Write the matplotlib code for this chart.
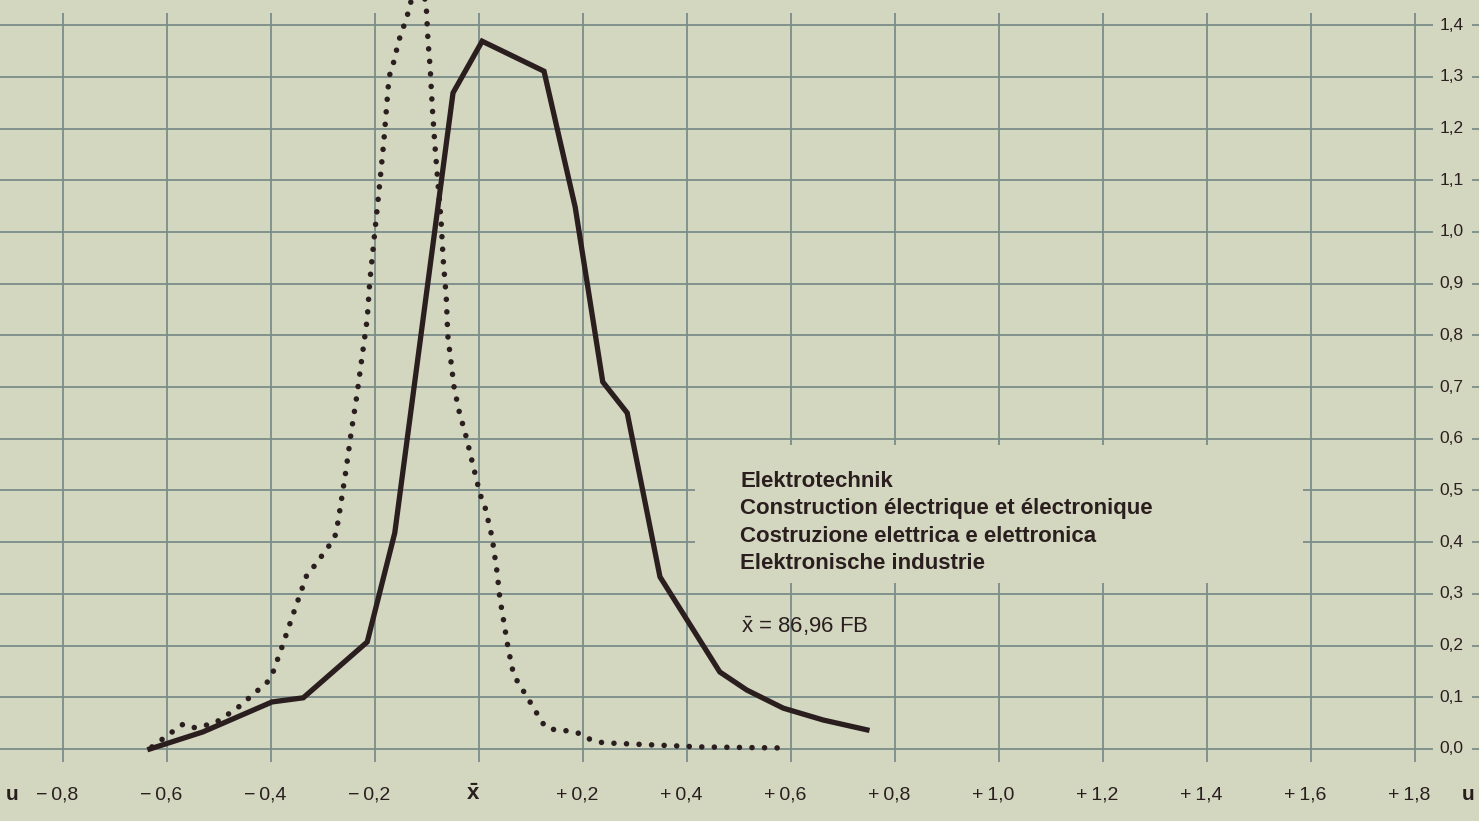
import matplotlib
matplotlib.use("Agg")
import matplotlib.pyplot as plt
from matplotlib.patches import Rectangle
import numpy as np

plt.rcParams['font.family'] = ['Liberation Sans', 'DejaVu Sans']
plt.rcParams['mathtext.fontset'] = 'custom'
plt.rcParams['mathtext.rm'] = 'Liberation Sans'
plt.rcParams['mathtext.it'] = 'Liberation Sans:italic'
plt.rcParams['mathtext.bf'] = 'Liberation Sans:bold'

# ---- data ----
solid_u = [-0.633, -0.531, -0.398, -0.338, -0.215, -0.162, -0.050, 0.006, 0.125,
           0.185, 0.238, 0.285, 0.348, 0.463, 0.515, 0.585, 0.662, 0.746]
solid_v = [0.000, 0.033, 0.091, 0.099, 0.207, 0.418, 1.269, 1.369, 1.311,
           1.048, 0.710, 0.650, 0.333, 0.149, 0.114, 0.079, 0.056, 0.037]

dotted_u = [-0.629, -0.590, -0.569, -0.546, -0.508, -0.465, -0.427, -0.408, -0.396,
            -0.379, -0.356, -0.331, -0.315, -0.287, -0.275, -0.267, -0.256, -0.246,
            -0.235, -0.225, -0.215, -0.210, -0.200, -0.190, -0.183, -0.177, -0.173,
            -0.165, -0.154, -0.138, -0.133, -0.117, -0.102, -0.098, -0.094, -0.090,
            -0.085, -0.079, -0.073, -0.069, -0.063, -0.060, -0.054, -0.048, -0.038,
            -0.025, -0.013, 0.002, 0.012, 0.025, 0.035, 0.040, 0.048, 0.056,
            0.065, 0.075, 0.088, 0.113, 0.127, 0.146, 0.171, 0.190, 0.213,
            0.238, 0.425, 0.579]
dotted_v = [0.004, 0.033, 0.048, 0.041, 0.050, 0.079, 0.112, 0.128, 0.149,
            0.197, 0.265, 0.337, 0.356, 0.395, 0.416, 0.466, 0.538, 0.611,
            0.683, 0.758, 0.832, 0.905, 1.004, 1.103, 1.176, 1.251, 1.300,
            1.325, 1.371, 1.418, 1.441, 1.472, 1.447, 1.368, 1.319, 1.244,
            1.170, 1.095, 1.023, 0.948, 0.874, 0.799, 0.750, 0.700, 0.652,
            0.605, 0.555, 0.493, 0.466, 0.410, 0.340, 0.292, 0.244, 0.195,
            0.151, 0.128, 0.108, 0.066, 0.043, 0.037, 0.035, 0.031, 0.019,
            0.012, 0.004, 0.002]

x_ticks = [-0.8, -0.6, -0.4, -0.2, 0.0, 0.2, 0.4, 0.6, 0.8, 1.0, 1.2, 1.4, 1.6, 1.8]
x_tick_labels = ['−\u20090,8', '−\u20090,6', '−\u20090,4', '−\u20090,2', r'$\mathbf{\bar{x}}$',
                 '+\u20090,2', '+\u20090,4', '+\u20090,6', '+\u20090,8', '+\u20091,0',
                 '+\u20091,2', '+\u20091,4', '+\u20091,6', '+\u20091,8']
y_ticks = [0.0, 0.1, 0.2, 0.3, 0.4, 0.5, 0.6, 0.7, 0.8, 0.9, 1.0, 1.1, 1.2, 1.3, 1.4]
y_tick_labels = ['0,0', '0,1', '0,2', '0,3', '0,4', '0,5', '0,6', '0,7', '0,8', '0,9',
                 '1,0', '1,1', '1,2', '1,3', '1,4']
axis_symbol = 'u'
title_lines = ['Elektrotechnik',
               'Construction électrique et électronique',
               'Costruzione elettrica e elettronica',
               'Elektronische industrie']
mean_label = r'$\mathrm{\bar{x}}$ = 86,96 FB'

# ---- style ----
BG = '#d3d7c0'
GRID = '#7b8c89'
INK = '#2a1e1e'

fig = plt.figure(figsize=(14.79, 8.21), dpi=100, facecolor=BG)
ax = fig.add_axes([0, 0, 1, 1])
ax.set_facecolor(BG)
ax.set_xlim(-0.9212, 1.9231)
ax.set_ylim(-0.1393, 1.4487)
ax.axis('off')

# grid
ax.vlines(x_ticks, -0.025, 1.424, color=GRID, lw=1.3, zorder=1)
ax.hlines(y_ticks, -0.95, 1.835, color=GRID, lw=1.3, zorder=1)
ax.hlines(y_ticks, 1.91, 1.95, color=GRID, lw=1.3, zorder=1)

# blank area behind the caption
ax.add_patch(Rectangle((0.415, 0.321), 1.585 - 0.415, 0.588 - 0.321,
                       facecolor=BG, edgecolor='none', zorder=2))

# curves
ax.plot(solid_u, solid_v, color=INK, lw=3.8, solid_joinstyle='miter', zorder=4)
ax.plot(dotted_u, dotted_v, color=INK, lw=4.0, linestyle=(0, (0.01, 2.25)),
        dash_capstyle='round', zorder=4)

# tick labels
for xv, lab in zip(x_ticks, x_tick_labels):
    ax.text(xv - 0.012, -0.089, lab, ha='center', va='center',
            fontsize=16 if xv == 0.0 else 14, color=INK)
ax.text(-0.898, -0.089, axis_symbol, ha='center', va='center', fontsize=15,
        fontweight='bold', color=INK)
ax.text(1.902, -0.089, axis_symbol, ha='center', va='center', fontsize=15,
        fontweight='bold', color=INK)
for yv, lab in zip(y_ticks, y_tick_labels):
    ax.text(1.870, yv, lab, ha='center', va='center', fontsize=12.5, color=INK)

# caption
for i, line in enumerate(title_lines):
    ax.text(0.502, (749 - (487 + 27.3 * i)) / 517, line, ha='left', va='baseline',
            fontsize=16, fontweight='bold', color=INK, zorder=5)
ax.text(0.504, (749 - 633) / 517, mean_label, ha='left', va='baseline',
        fontsize=16, color=INK, zorder=5)

fig.savefig('out.png', dpi=100, facecolor=BG)
